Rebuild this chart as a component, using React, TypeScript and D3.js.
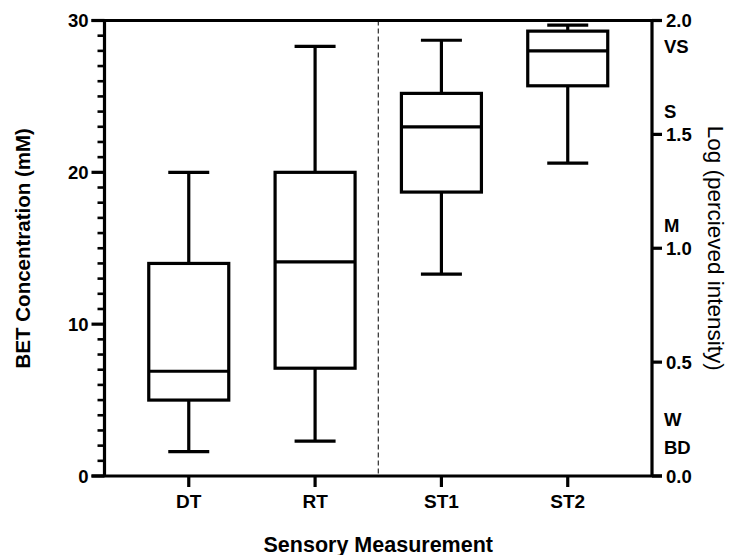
import React from "react";
import * as d3 from "d3";

const categories = ["DT", "RT", "ST1", "ST2"];
const whiskerLow = [1.6, 2.3, 13.3, 20.6];
const q1 = [5.0, 7.1, 18.7, 25.7];
const median = [6.9, 14.1, 23.0, 28.0];
const q3 = [14.0, 20.0, 25.2, 29.3];
const whiskerHigh = [20.0, 28.3, 28.7, 29.7];

const leftTicks = [0, 10, 20, 30];
const rightTicks = [0, 0.5, 1.0, 1.5, 2.0];
const intensityLabels = ["BD", "W", "M", "S", "VS"];
const intensityValues = [0.126, 0.25, 1.1, 1.6, 1.885];

const W = 729;
const H = 555;
const L = 104.5;
const R = 652;
const T = 20.5;
const B = 476;
const FONT = "Arial, 'Liberation Sans', sans-serif";

export default function App() {
  const x = d3.scalePoint<string>().domain(categories).range([L, R]).padding(0.667);
  const y = d3.scaleLinear().domain([0, 30]).range([B, T]);
  const yR = d3.scaleLinear().domain([0, 2]).range([B, T]);
  const minor = d3.range(0, 31, 1).filter((v) => v % 10 !== 0);
  const boxHalf = 40;
  const capHalf = 20.5;
  const sw = 3.2;
  const divX = ((x("RT") as number) + (x("ST1") as number)) / 2;

  return (
    <svg width={W} height={H} style={{ position: "absolute", left: 0, top: 0, background: "#fff" }} fontFamily={FONT}>
      <rect width={W} height={H} fill="#fff" />
      {/* dashed divider */}
      <line x1={divX} x2={divX} y1={T} y2={B} stroke="#000" strokeWidth={1} strokeDasharray="5,3" />
      {/* boxes */}
      {categories.map((c, i) => {
        const cx = x(c) as number;
        return (
          <g key={c} stroke="#000" strokeWidth={sw} fill="none">
            <line x1={cx} x2={cx} y1={y(whiskerHigh[i])} y2={y(q3[i])} />
            <line x1={cx} x2={cx} y1={y(q1[i])} y2={y(whiskerLow[i])} />
            <line x1={cx - capHalf} x2={cx + capHalf} y1={y(whiskerHigh[i])} y2={y(whiskerHigh[i])} />
            <line x1={cx - capHalf} x2={cx + capHalf} y1={y(whiskerLow[i])} y2={y(whiskerLow[i])} />
            <rect x={cx - boxHalf} y={y(q3[i])} width={boxHalf * 2} height={y(q1[i]) - y(q3[i])} fill="#fff" />
            <line x1={cx - boxHalf} x2={cx + boxHalf} y1={y(median[i])} y2={y(median[i])} />
          </g>
        );
      })}
      {/* frame / axes */}
      <g stroke="#000" strokeWidth={sw} fill="none">
        <line x1={L} x2={L} y1={T} y2={B} />
        <line x1={R} x2={R} y1={T} y2={B} />
        <line x1={L - 13} x2={R + 10} y1={T} y2={T} />
        <line x1={L - 13} x2={R + 10} y1={B} y2={B} />
        {leftTicks.map((t) => (
          <line key={"lt" + t} x1={L - 13} x2={L} y1={y(t)} y2={y(t)} />
        ))}
        {minor.map((t) => (
          <line key={"mt" + t} x1={L - 7} x2={L} y1={y(t)} y2={y(t)} strokeWidth={2.6} />
        ))}
        {rightTicks.map((t) => (
          <line key={"rt" + t} x1={R} x2={R + 10} y1={yR(t)} y2={yR(t)} />
        ))}
        {categories.map((c) => (
          <line key={"xt" + c} x1={x(c) as number} x2={x(c) as number} y1={B} y2={B + 11} />
        ))}
      </g>
      {/* tick labels */}
      <g fontWeight="bold" fontSize={18.5} fill="#000">
        {leftTicks.map((t) => (
          <text key={"ll" + t} x={L - 16} y={y(t)} dy="0.36em" textAnchor="end">
            {t}
          </text>
        ))}
        {rightTicks.map((t) => (
          <text key={"rl" + t} x={R + 14} y={yR(t)} dy="0.36em" textAnchor="start">
            {t.toFixed(1)}
          </text>
        ))}
        {intensityLabels.map((lab, i) => (
          <text key={lab} x={R + 12} y={yR(intensityValues[i])} dy="0.36em" fontSize={18.5} textAnchor="start">
            {lab}
          </text>
        ))}
        {categories.map((c) => (
          <text key={"xl" + c} x={x(c) as number} y={508} textAnchor="middle" fontSize={19}>
            {c}
          </text>
        ))}
      </g>
      {/* titles */}
      <text x={(L + R) / 2} y={551.5} textAnchor="middle" fontWeight="bold" fontSize={21.5}>
        Sensory Measurement
      </text>
      <text transform={`translate(30, ${(T + B) / 2}) rotate(-90)`} textAnchor="middle" fontWeight="bold" fontSize={20.5}>
        BET Concentration (mM)
      </text>
      <text transform={`translate(708, ${(T + B) / 2}) rotate(90)`} textAnchor="middle" fontSize={22.5}>
        Log (percieved intensity)
      </text>
    </svg>
  );
}
